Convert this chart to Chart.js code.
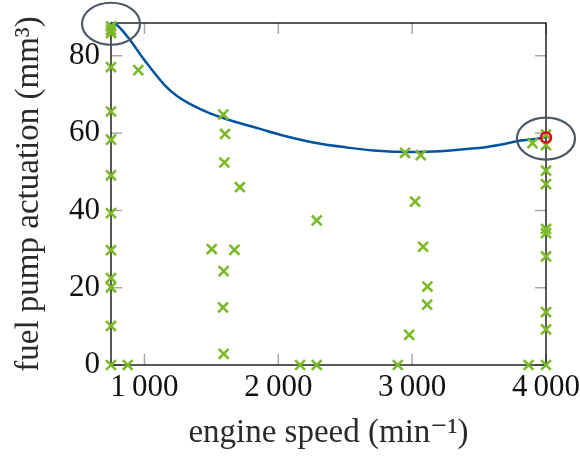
<!DOCTYPE html>
<html>
<head>
<meta charset="utf-8">
<script src="https://cdn.jsdelivr.net/npm/chart.js@4.4.0/dist/chart.umd.min.js"></script>
<style>
  html, body { margin: 0; padding: 0; background: #fff; }
</style>
</head>
<body>
<canvas id="chart" width="580" height="457"></canvas>
<script>
// Measured operating points (engine speed in 1/min, pump actuation in mm^3)
const pointSpeed = [
    750, 750, 750, 750, 750, 750, 750, 750, 750, 750, 750, 750, 750,
    954, 875,
    1589, 1602, 1597, 1713, 1503, 1672, 1592, 1587, 1592,
    2287, 2163, 2287,
    2947, 3064, 3022, 3082, 3114, 3112, 2978, 2893,
    3899, 4000, 4000, 4000, 4000, 4000, 4000, 4000, 4000, 4000, 4000, 3870
];
const pointPump = [
    87.6, 86.7, 85.9, 77.1, 65.6, 58.3, 49.1, 39.3, 29.7, 22.5, 20.1, 10.1, 0,
    76.3, 0,
    64.8, 59.8, 52.4, 46.0, 30.0, 29.8, 24.3, 14.9, 2.9,
    37.4, 0, 0,
    54.9, 54.3, 42.3, 30.6, 20.3, 15.6, 7.8, 0,
    57.4, 59.6, 56.9, 50.3, 46.8, 35.2, 34.1, 28.1, 13.7, 9.2, 0, 0
];

// Optimal trajectory curve
const curveSpeed = [750, 785, 879, 1004, 1154, 1241, 1365, 1490, 1615, 1739, 1864, 2013,
    2262, 2511, 2711, 3010, 3209, 3408, 3533, 3657, 3782, 3906, 4000];
const curvePump = [88.5, 88.2, 84.7, 78.7, 72.3, 69.7, 67.1, 65.1, 63.6, 62.3, 61.1, 59.6,
    57.6, 56.3, 55.5, 55.1, 55.3, 55.9, 56.3, 57.0, 57.9, 58.4, 58.9];

// Final point (red ring) and highlighted regions (ellipses)
const endSpeed = [4000];
const endPump = [58.9];
const markSpeed = [750, 4000];
const markPump = [88.3, 58.6];

const speedTicks = [1000, 2000, 3000, 4000];
const pumpTicks = [0, 20, 40, 60, 80];

const toXY = (xs, ys) => xs.map((x, i) => ({ x: x, y: ys[i] }));
const fmt = v => {
    const s = String(v);
    return s.length > 3 ? s.slice(0, -3) + '\u2009' + s.slice(-3) : s;
};

const FONT = 'Liberation Serif, DejaVu Serif, serif';
const GREEN = '#7cb928';
const BLUE = '#00549f';

// Frame with inward ticks on all sides, plus the gray ellipses
const framePlugin = {
    id: 'frame',
    beforeDatasetsDraw(chart) {
        const { ctx, chartArea: a, scales: { x, y } } = chart;
        ctx.save();
        ctx.strokeStyle = '#a8a8a8';
        ctx.lineWidth = 1.5;
        ctx.beginPath();
        speedTicks.forEach(v => {
            const px = x.getPixelForValue(v);
            ctx.moveTo(px, a.bottom); ctx.lineTo(px, a.bottom - 11);
            ctx.moveTo(px, a.top); ctx.lineTo(px, a.top + 11);
        });
        pumpTicks.forEach(v => {
            const py = y.getPixelForValue(v);
            ctx.moveTo(a.left, py); ctx.lineTo(a.left + 11, py);
            ctx.moveTo(a.right, py); ctx.lineTo(a.right - 11, py);
        });
        ctx.stroke();
        ctx.strokeStyle = '#000';
        ctx.lineWidth = 1.3;
        ctx.strokeRect(a.left, a.top, a.width, a.height);
        ctx.restore();
    },
    afterDatasetsDraw(chart) {
        const { ctx, scales: { x, y } } = chart;
        ctx.save();
        ctx.strokeStyle = '#4b5764';
        ctx.lineWidth = 2.2;
        markSpeed.forEach((s, i) => {
            ctx.beginPath();
            ctx.ellipse(x.getPixelForValue(s), y.getPixelForValue(markPump[i]), 29, 21, 0, 0, 2 * Math.PI);
            ctx.stroke();
        });
        ctx.restore();
    }
};

new Chart(document.getElementById('chart'), {
    type: 'scatter',
    data: {
        datasets: [
            {
                type: 'line',
                data: toXY(curveSpeed, curvePump),
                borderColor: BLUE,
                borderWidth: 2.5,
                pointRadius: 0,
                fill: false,
                cubicInterpolationMode: 'monotone',
                clip: false,
                order: 2
            },
            {
                data: toXY(pointSpeed, pointPump),
                pointStyle: 'crossRot',
                pointRadius: 7,
                borderColor: GREEN,
                backgroundColor: GREEN,
                pointBorderWidth: 2.6,
                clip: false,
                order: 1
            },
            {
                data: toXY(endSpeed, endPump),
                pointStyle: 'circle',
                pointRadius: 5,
                borderColor: '#e3001b',
                backgroundColor: 'rgba(0,0,0,0)',
                pointBorderWidth: 2.5,
                clip: false,
                order: 0
            }
        ]
    },
    options: {
        responsive: false,
        animation: false,
        layout: { padding: { top: 23, right: 34, left: 0, bottom: 0 } },
        plugins: { legend: { display: false }, tooltip: { enabled: false } },
        scales: {
            x: {
                type: 'linear',
                min: 750,
                max: 4000,
                afterBuildTicks: s => { s.ticks = speedTicks.map(v => ({ value: v })); },
                afterFit: s => { s.height = 92; s.paddingLeft = 0; s.paddingRight = 0; },
                grid: { display: false, drawTicks: false },
                border: { display: false },
                ticks: {
                    padding: 4,
                    maxRotation: 0,
                    color: '#111',
                    font: { family: FONT, size: 31 },
                    callback: v => fmt(v)
                },
                title: {
                    display: true,
                    text: 'engine speed (min\u207B\u00B9)',
                    color: '#2a2a2a',
                    font: { family: FONT, size: 33 },
                    padding: { top: 0, bottom: 4 }
                }
            },
            y: {
                type: 'linear',
                min: 0,
                max: 88.5,
                afterBuildTicks: s => { s.ticks = pumpTicks.map(v => ({ value: v })); },
                afterFit: s => { s.width = 111; s.paddingTop = 0; s.paddingBottom = 0; },
                grid: { display: false, drawTicks: false },
                border: { display: false },
                ticks: {
                    padding: 11,
                    color: '#111',
                    font: { family: FONT, size: 31 },
                    callback: v => fmt(v)
                },
                title: {
                    display: true,
                    text: 'fuel pump actuation (mm\u00B3)',
                    color: '#2a2a2a',
                    font: { family: FONT, size: 33 },
                    padding: { top: 10, bottom: 0 }
                }
            }
        }
    },
    plugins: [framePlugin]
});
</script>
</body>
</html>
